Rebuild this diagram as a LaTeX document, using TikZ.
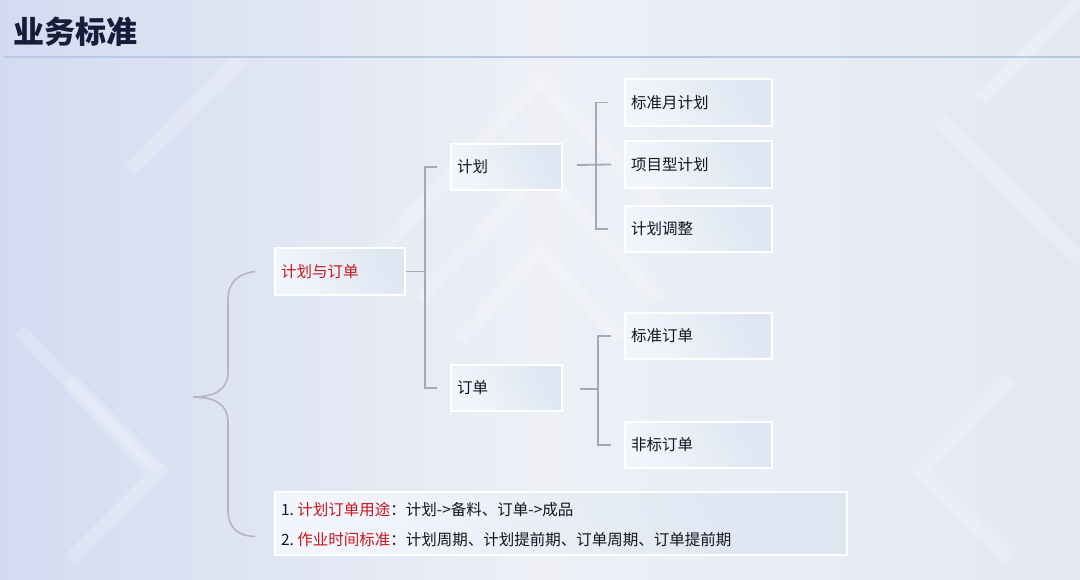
\documentclass[tikz,border=0pt]{standalone}
\usepackage{fontspec}
\setmainfont{Noto Sans CJK SC}
\usetikzlibrary{calc}
\definecolor{bgL}{HTML}{D2DBF1}
\definecolor{bgM}{HTML}{EEF0F6}
\definecolor{bgR}{HTML}{E4E8F3}
\definecolor{boxL}{HTML}{F2F5FB}
\definecolor{boxR}{HTML}{DEE6F2}
\definecolor{conncol}{HTML}{A6A8B6}
\definecolor{titlecol}{HTML}{161C3A}
\definecolor{rulecol}{HTML}{BAC8E8}
\definecolor{redtxt}{HTML}{C8161D}
\definecolor{txt}{HTML}{14141E}
\tikzset{
  box/.style={draw=white, line width=2pt, left color=boxL, right color=boxR,
    shading angle=120, anchor=north west, inner xsep=6pt, inner ysep=0pt,
    align=left, font=\fontsize{15.5}{18}\selectfont, text=txt},
  conn/.style={draw=conncol, line width=1.8pt},
  chev/.style={draw=white, line width=14pt, opacity=0.2, line cap=butt}
}
\begin{document}
\begin{tikzpicture}[x=1pt,y=-1pt]
\useasboundingbox (0,0) rectangle (1080,580);
% background
\shade[left color=bgL, right color=bgR, middle color=bgM] (0,0) rectangle (1080,580);
% faint decorative chevrons
\draw[chev] (380,250) -- (540,80) -- (700,250);
\draw[chev] (420,300) -- (540,170) -- (660,300);
\draw[chev] (460,340) -- (540,250) -- (620,340);
\draw[chev] (70,380) -- (160,470) -- (70,560);
\draw[chev] (20,330) -- (150,470);
\draw[chev] (1010,380) -- (920,470) -- (1010,560);
\draw[chev] (940,120) -- (1080,260);
\draw[chev] (240,60) -- (130,170);
\draw[chev] (980,100) -- (1080,0);
% title
\node[anchor=west, font=\fontsize{31}{34}\selectfont\bfseries, text=titlecol, inner sep=0pt] (title) at (13,32) {业务标准};
\draw[rulecol, line width=1.5pt] (4,57) -- (1080,57);
% nodes
\node[box, minimum width=130, minimum height=47, text width=118, text=redtxt] (root) at (274,247) {计划与订单};
\node[box, minimum width=111, minimum height=46, text width=99] (plan) at (450,143) {计划};
\node[box, minimum width=111, minimum height=46, text width=99] (order) at (450,364) {订单};
\node[box, minimum width=147, minimum height=47, text width=135] (p1) at (624,78) {标准月计划};
\node[box, minimum width=147, minimum height=47, text width=135] (p2) at (624,140) {项目型计划};
\node[box, minimum width=147, minimum height=46, text width=135] (p3) at (624,205) {计划调整};
\node[box, minimum width=147, minimum height=46, text width=135] (o1) at (624,312) {标准订单};
\node[box, minimum width=147, minimum height=46, text width=135] (o2) at (624,421) {非标订单};
\node[box, minimum width=572, minimum height=63, text width=560, inner xsep=6pt,
      font=\fontsize{15.5}{30}\selectfont] (note) at (274,491)
  {\rule{0pt}{0pt}\\[-15pt]1.\hspace{3.5pt}\textcolor{redtxt}{计划订单用途}：计划->备料、订单->成品\\
   2.\hspace{3.5pt}\textcolor{redtxt}{作业时间标准}：计划周期、计划提前期、订单周期、订单提前期};
% connectors level 1
\coordinate (j1) at ($(root.east)+(19,0)$);
\coordinate (pa) at ($(plan.west)+(-13,0)$);
\coordinate (oa) at ($(order.west)+(-13,0)$);
\draw[conn] (root.east) -- (j1);
\draw[conn] (pa) -| (j1) |- (oa);
% connectors plan
\coordinate (pj) at ($(plan.east)+(33,-2)$);
\coordinate (ps) at ($(plan.east)+(14,-2)$);
\coordinate (p1a) at ($(p1.west)+(-16,0)$);
\coordinate (p2a) at ($(p2.west)+(-13,0)$);
\coordinate (p3a) at ($(p3.west)+(-16,0)$);
\draw[conn] (ps) -- (p2a);
\draw[conn] (p1a) -| (pj) |- (p3a);
% connectors order
\coordinate (os) at ($(order.east)+(17,1)$);
\coordinate (oj) at ($(order.east)+(35,1)$);
\coordinate (o1a) at ($(o1.west)+(-13,0)$);
\coordinate (o2a) at ($(o2.west)+(-13,0)$);
\draw[conn] (os) -- (oj);
\draw[conn] (o1a) -| (oj) |- (o2a);
% brace
\coordinate (bt) at ($(root.west)+(-19,0)$);
\coordinate (bb) at ($(note.west)+(-19,13)$);
\coordinate (tip) at (193,397);
\draw[conn, line width=1.6pt, draw=conncol!85] (bt) .. controls (238,274) and (228,282) .. (228,300)
  -- (228,372) .. controls (228,390) and (214,397) .. (tip)
  .. controls (214,397) and (228,404) .. (228,422)
  -- (228,510) .. controls (228,528) and (238,536) .. (bb);
\end{tikzpicture}
\end{document}
